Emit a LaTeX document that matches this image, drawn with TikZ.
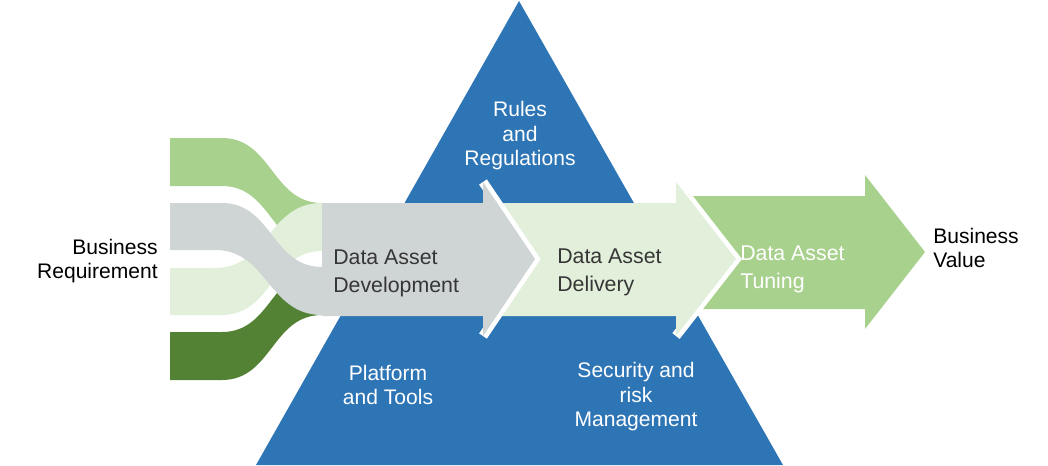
\documentclass[tikz,border=0pt]{standalone}
\usepackage{fontspec}
\setmainfont{Liberation Sans}
\definecolor{tblue}{HTML}{2E75B6}
\definecolor{tgray}{HTML}{CFD4D5}
\definecolor{tpale}{HTML}{E2EFDA}
\definecolor{tlgreen}{HTML}{A9D18E}
\definecolor{tdgreen}{HTML}{548235}
\definecolor{ttext}{HTML}{363636}
\begin{document}
\begin{tikzpicture}[x=0.75pt,y=-0.75pt,
  lbl/.style={inner sep=0pt, font=\fontsize{15.8}{18.4}\selectfont},
  steplbl/.style={inner sep=0pt, font=\fontsize{16}{20.8}\selectfont, align=left, anchor=west},
  sep/.style={white, line width=7pt}]
\useasboundingbox (0,0) rectangle (1048,465);
% pyramid
\fill[tblue] (519,1) -- (256,465) -- (783,465) -- cycle;
% ribbons
\fill[tlgreen] (170,138) -- (222,138) .. controls (272,138) and (272,203) .. (322,203) -- (322,251) .. controls (272,251) and (272,186) .. (222,186) -- (170,186) -- cycle;
\fill[tpale] (170,268) -- (215,268) .. controls (268,268) and (268,203) .. (322,203) -- (322,251) .. controls (272,251) and (272,315) .. (222,315) -- (170,315) -- cycle;
\fill[tdgreen] (170,332) -- (222,332) .. controls (272,332) and (272,267) .. (322,267) -- (322,315) .. controls (272,315) and (272,380) .. (222,380) -- (170,380) -- cycle;
\fill[tgray] (170,203) -- (222,203) .. controls (272,203) and (272,267) .. (322,267) -- (322,315) .. controls (268,315) and (268,250) .. (215,250) -- (170,250) -- cycle;
% tuning arrow
\fill[tlgreen] (676,196) -- (865,196) -- (865,175) -- (925,252) -- (865,329) -- (865,309) -- (676,309) -- cycle;
% delivery arrow
\draw[sep] (676,182) -- (736,259) -- (676,336);
\fill[tpale] (483,203) -- (676,203) -- (676,182) -- (736,259) -- (676,336) -- (676,316) -- (483,316) -- cycle;
% development arrow
\draw[sep] (483,182) -- (535,259) -- (483,336);
\fill[tgray] (322,203) -- (483,203) -- (483,182) -- (535,259) -- (483,336) -- (483,316) -- (322,316) -- cycle;
% labels
\node[steplbl, text=ttext] (dev) at (333,273) {Data Asset\\Development};
\node[steplbl, text=ttext] (del) at (557,272) {Data Asset\\Delivery};
\node[steplbl, text=white] (tun) at (740,269) {Data Asset\\Tuning};
\node[lbl, text=white, align=center] (rules) at (520,136) {Rules\\and\\Regulations};
\node[lbl, text=white, align=center] (plat) at (388,385) {Platform\\and Tools};
\node[lbl, text=white, align=center] (sec) at (636,397) {Security and\\risk\\Management};
\node[lbl, text=black, align=right, anchor=east] (breq) at (158,261) {Business\\Requirement};
\node[lbl, text=black, align=left, anchor=west] (bval) at (933,248) {Business\\Value};
\end{tikzpicture}
\end{document}
